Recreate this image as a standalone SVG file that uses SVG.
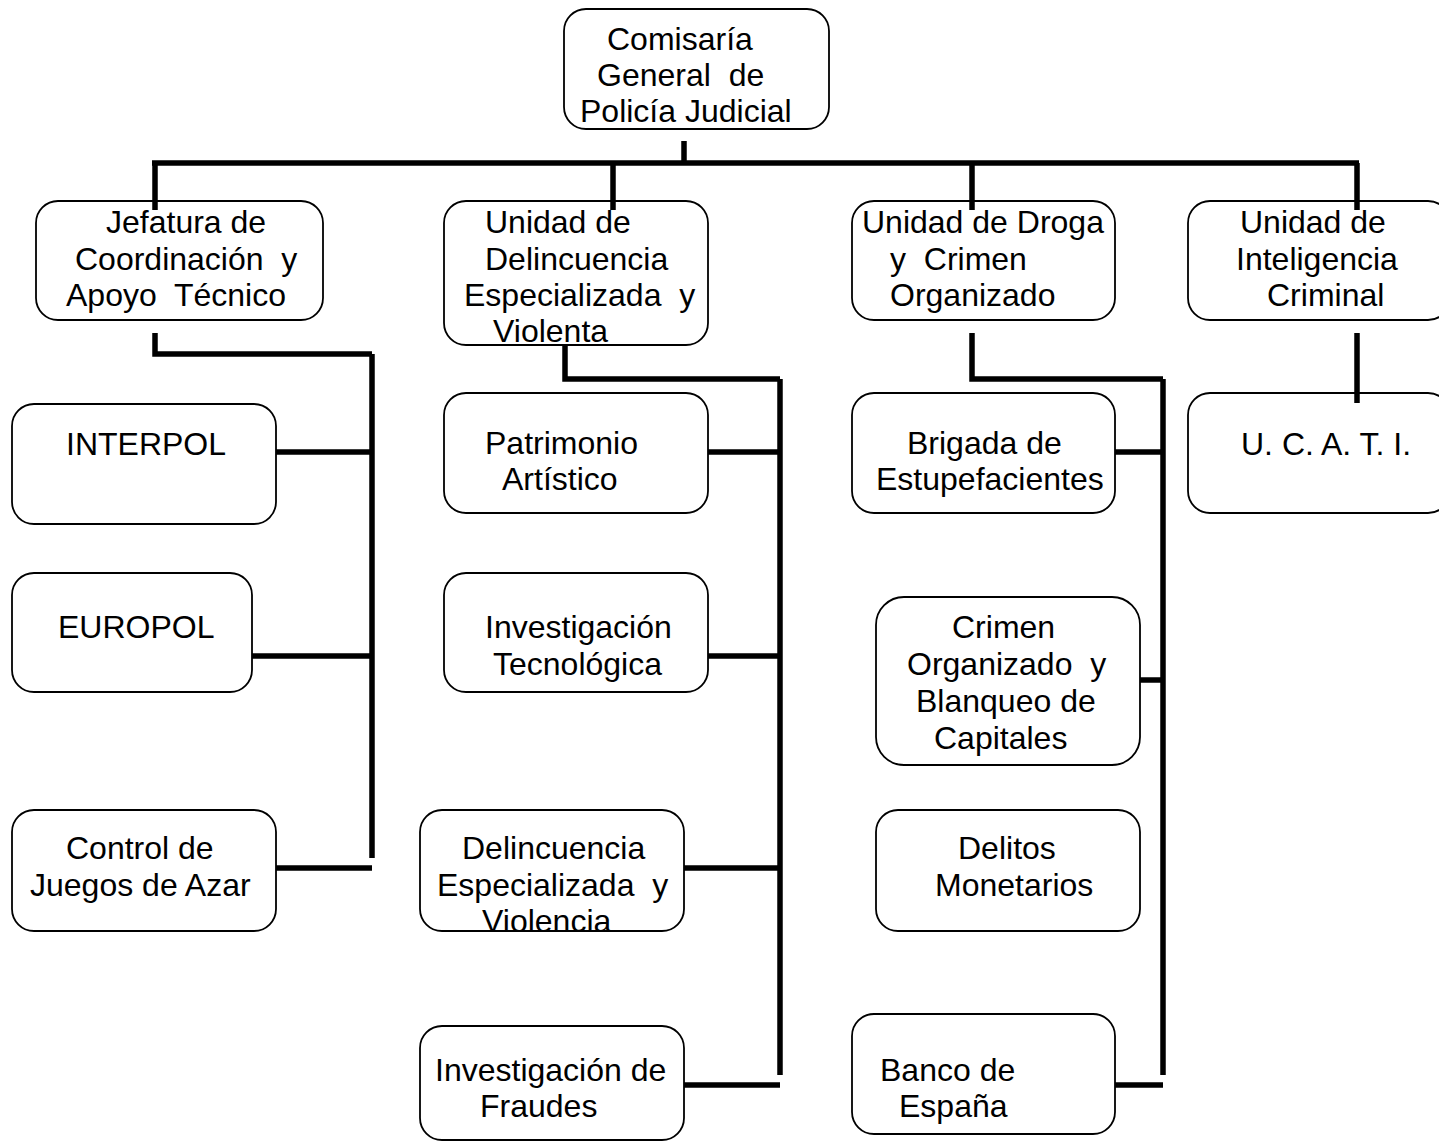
<svg xmlns="http://www.w3.org/2000/svg" width="1439" height="1142" viewBox="0 0 1439 1142">
  <style>
    .box { fill: #fff; stroke: #000; stroke-width: 1.8; }
    .lbl { font-family: "Liberation Sans", Arial, sans-serif; font-size: 32px; fill: #000; white-space: pre; }
    .wire { fill: none; stroke: #000; stroke-width: 5.5; stroke-linecap: butt; stroke-linejoin: miter; }
  </style>
  <rect width="1439" height="1142" fill="#fff"/>

  <!-- Head office -->
  <g id="comisaria">
    <rect class="box" x="564" y="9" width="265" height="120" rx="22"/>
    <text class="lbl" xml:space="preserve"><tspan x="607" y="50">Comisaría</tspan><tspan x="597" y="86">General  de</tspan><tspan x="580" y="122">Policía Judicial</tspan></text>
  </g>

  <!-- Second level -->
  <g id="jefatura">
    <rect class="box" x="36" y="201" width="287" height="119" rx="22"/>
    <text class="lbl" xml:space="preserve"><tspan x="106" y="233">Jefatura de</tspan><tspan x="75" y="270">Coordinación  y</tspan><tspan x="66" y="306">Apoyo  Técnico</tspan></text>
  </g>
  <g id="unidad-delincuencia">
    <rect class="box" x="444" y="201" width="264" height="144" rx="22"/>
    <text class="lbl" xml:space="preserve"><tspan x="485" y="233">Unidad de</tspan><tspan x="485" y="270">Delincuencia</tspan><tspan x="464" y="306">Especializada  y</tspan><tspan x="493" y="342">Violenta</tspan></text>
  </g>
  <g id="unidad-droga">
    <rect class="box" x="852" y="201" width="263" height="119" rx="22"/>
    <text class="lbl" xml:space="preserve"><tspan x="862" y="233">Unidad de Droga</tspan><tspan x="890" y="270">y  Crimen</tspan><tspan x="890" y="306">Organizado</tspan></text>
  </g>
  <g id="unidad-inteligencia">
    <rect class="box" x="1188" y="201" width="262" height="119" rx="22"/>
    <text class="lbl" xml:space="preserve"><tspan x="1240" y="233">Unidad de</tspan><tspan x="1236" y="270">Inteligencia</tspan><tspan x="1267" y="306">Criminal</tspan></text>
  </g>

  <!-- Third level: Jefatura -->
  <g id="interpol">
    <rect class="box" x="12" y="404" width="264" height="120" rx="22"/>
    <text class="lbl" x="66" y="455">INTERPOL</text>
  </g>
  <g id="europol">
    <rect class="box" x="12" y="573" width="240" height="119" rx="22"/>
    <text class="lbl" x="58" y="638">EUROPOL</text>
  </g>
  <g id="control-juegos">
    <rect class="box" x="12" y="810" width="264" height="121" rx="22"/>
    <text class="lbl"><tspan x="66" y="859">Control de</tspan><tspan x="30" y="896">Juegos de Azar</tspan></text>
  </g>

  <!-- Third level: Delincuencia -->
  <g id="patrimonio">
    <rect class="box" x="444" y="393" width="264" height="120" rx="22"/>
    <text class="lbl"><tspan x="485" y="454">Patrimonio</tspan><tspan x="502" y="490">Artístico</tspan></text>
  </g>
  <g id="tecnologica">
    <rect class="box" x="444" y="573" width="264" height="119" rx="22"/>
    <text class="lbl"><tspan x="485" y="638">Investigación</tspan><tspan x="493" y="675">Tecnológica</tspan></text>
  </g>
  <g id="delincuencia-violencia">
    <rect class="box" x="420" y="810" width="264" height="121" rx="22"/>
    <text class="lbl" xml:space="preserve"><tspan x="462" y="859">Delincuencia</tspan><tspan x="437" y="896">Especializada  y</tspan><tspan x="482" y="932">Violencia</tspan></text>
  </g>
  <g id="fraudes">
    <rect class="box" x="420" y="1026" width="264" height="114" rx="22"/>
    <text class="lbl"><tspan x="435" y="1081">Investigación de</tspan><tspan x="480" y="1117">Fraudes</tspan></text>
  </g>

  <!-- Third level: Droga -->
  <g id="estupefacientes">
    <rect class="box" x="852" y="393" width="263" height="120" rx="22"/>
    <text class="lbl"><tspan x="907" y="454">Brigada de</tspan><tspan x="876" y="490">Estupefacientes</tspan></text>
  </g>
  <g id="blanqueo">
    <rect class="box" x="876" y="597" width="264" height="168" rx="28"/>
    <text class="lbl" xml:space="preserve"><tspan x="952" y="638">Crimen</tspan><tspan x="907" y="675">Organizado  y</tspan><tspan x="916" y="712">Blanqueo de</tspan><tspan x="934" y="749">Capitales</tspan></text>
  </g>
  <g id="monetarios">
    <rect class="box" x="876" y="810" width="264" height="121" rx="22"/>
    <text class="lbl"><tspan x="958" y="859">Delitos</tspan><tspan x="935" y="896">Monetarios</tspan></text>
  </g>
  <g id="banco-espana">
    <rect class="box" x="852" y="1014" width="263" height="120" rx="22"/>
    <text class="lbl"><tspan x="880" y="1081">Banco de</tspan><tspan x="899" y="1117">España</tspan></text>
  </g>

  <!-- Third level: Inteligencia -->
  <g id="ucati">
    <rect class="box" x="1188" y="393" width="262" height="120" rx="22"/>
    <text class="lbl" x="1241" y="455">U. C. A. T. I.</text>
  </g>

  <!-- Connectors -->
  <g id="connectors">
    <!-- trunk -->
    <path class="wire" d="M684 141 V163 M152 163 H1359 M155 163 V210 M613 163 V210 M972 163 V210 M1357 163 V210"/>
    <!-- Jefatura branch -->
    <path class="wire" d="M155 333 V354 H372 M372 354 V858 M276 452 H372 M252 656 H372 M276 868 H372"/>
    <!-- Delincuencia branch -->
    <path class="wire" d="M565 345 V379 H780 M780 379 V1075 M708 452 H780 M708 656 H780 M684 868 H780 M684 1085 H780"/>
    <!-- Droga branch -->
    <path class="wire" d="M972 333 V379 H1163 M1163 379 V1075 M1115 452 H1163 M1140 680 H1163 M1115 1085 H1163"/>
    <!-- Inteligencia branch -->
    <path class="wire" d="M1357 333 V403"/>
  </g>
</svg>
